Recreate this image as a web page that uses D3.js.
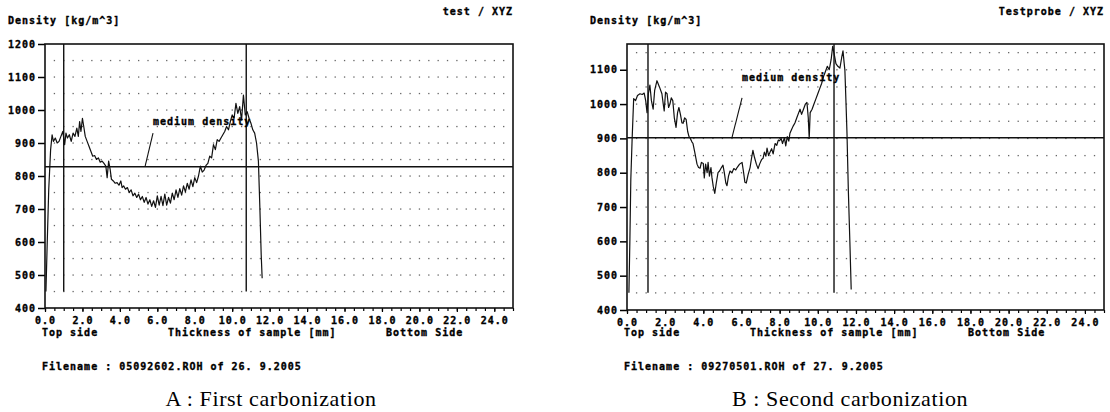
<!DOCTYPE html>
<html>
<head>
<meta charset="utf-8">
<script src="https://cdn.jsdelivr.net/npm/d3@7"></script>
<style>
  body { margin: 0; background: #fff; }
  svg { display: block; }
  .mono { font-family: "DejaVu Sans Mono", monospace; font-weight: bold; font-size: 10px; letter-spacing: 1px; stroke: #000; stroke-width: 0.35px; }
  .cap { font-family: "Liberation Serif", "DejaVu Serif", serif; font-size: 22px; letter-spacing: 0.6px; }
</style>
</head>
<body>
<svg id="chart" width="1110" height="412"></svg>
<script>
var posA = [0.05, 0.12, 0.2, 0.3, 0.38, 0.45, 0.55, 0.65, 0.75, 0.85, 0.95, 1.05, 1.12, 1.2, 1.3, 1.4, 1.5, 1.6, 1.7, 1.78,
  1.85, 1.92, 2.0, 2.07, 2.15, 2.25, 2.35, 2.45, 2.55, 2.65, 2.75, 2.85, 2.95, 3.05, 3.15, 3.25, 3.32, 3.4, 3.48, 3.55,
  3.65, 3.75, 3.85, 3.95, 4.05, 4.12, 4.2, 4.3, 4.4, 4.5, 4.6, 4.7, 4.8, 4.9, 5.0, 5.1, 5.2, 5.3, 5.4, 5.5,
  5.6, 5.7, 5.8, 5.9, 6.0, 6.1, 6.2, 6.3, 6.4, 6.5, 6.6, 6.7, 6.8, 6.9, 7.0, 7.1, 7.2, 7.3, 7.4, 7.5,
  7.6, 7.7, 7.8, 7.9, 8.0, 8.1, 8.2, 8.3, 8.4, 8.5, 8.6, 8.7, 8.8, 8.9, 9.0, 9.1, 9.2, 9.3, 9.4, 9.5,
  9.6, 9.7, 9.8, 9.9, 10.0, 10.1, 10.2, 10.3, 10.4, 10.5, 10.6, 10.7, 10.8, 10.9, 11.0, 11.1, 11.2, 11.3, 11.4, 11.48,
  11.55, 11.6];
var densA = [450, 600, 760, 880, 925, 905, 915, 900, 905, 920, 935, 895, 930, 915, 925, 905, 930, 920, 945, 920,
  965, 935, 975, 950, 920, 905, 890, 875, 860, 862, 850, 855, 842, 845, 838, 830, 795, 845, 820, 790,
  785, 778, 780, 772, 785, 765, 770, 760, 765, 750, 758, 740, 748, 735, 745, 728, 738, 720, 735, 715,
  728, 708, 725, 705, 740, 712, 738, 710, 745, 712, 735, 718, 748, 728, 758, 735, 762, 742, 770, 752,
  778, 760, 788, 768, 795, 780, 800, 830, 812, 818, 832, 838, 860, 855, 895, 880, 910, 905, 915, 925,
  935, 950, 940, 965, 985, 975, 1020, 990, 1010, 970, 1045, 985, 995, 975, 960, 940, 930, 900, 845, 700,
  560, 490];

var posB = [0.1, 0.15, 0.2, 0.27, 0.35, 0.45, 0.55, 0.68, 0.8, 0.9, 0.98, 1.05, 1.12, 1.2, 1.28, 1.37, 1.45, 1.57, 1.7, 1.83,
  1.9, 1.95, 2.02, 2.1, 2.18, 2.25, 2.32, 2.4, 2.48, 2.57, 2.65, 2.72, 2.8, 2.88, 2.94, 3.02, 3.1, 3.18, 3.25, 3.32,
  3.4, 3.46, 3.55, 3.67, 3.75, 3.83, 3.9, 4.0, 4.05, 4.12, 4.2, 4.25, 4.32, 4.4, 4.45, 4.52, 4.6, 4.68, 4.77, 4.85,
  4.95, 5.03, 5.1, 5.18, 5.24, 5.32, 5.4, 5.5, 5.6, 5.7, 5.77, 5.9, 6.03, 6.1, 6.18, 6.25, 6.35, 6.45, 6.52, 6.6,
  6.68, 6.78, 6.87, 6.95, 7.05, 7.13, 7.2, 7.28, 7.34, 7.42, 7.5, 7.58, 7.66, 7.76, 7.85, 7.93, 8.0, 8.08, 8.15, 8.25,
  8.32, 8.4, 8.48, 8.54, 8.62, 8.7, 8.8, 8.9, 9.0, 9.07, 9.15, 9.25, 9.35, 9.43, 9.5, 9.55, 9.6, 9.7, 9.8, 9.9,
  10.0, 10.1, 10.2, 10.3, 10.4, 10.5, 10.6, 10.7, 10.78, 10.88, 10.95, 11.05, 11.16, 11.25, 11.32, 11.38, 11.42, 11.48, 11.53, 11.6,
  11.68, 11.75];
var densB = [450, 600, 780, 900, 1016, 1010, 1025, 1030, 1028, 1032, 1010, 975, 1030, 1055, 1010, 985, 1040, 1068, 1050, 1030,
  1000, 980, 1035, 1030, 990, 1000, 1018, 1010, 960, 932, 975, 990, 970, 945, 944, 960, 955, 920, 905, 900,
  890, 885, 860, 825, 815, 813, 830, 827, 785, 825, 800, 830, 790, 815, 787, 760, 740, 770, 800, 805,
  815, 822, 800, 770, 762, 790, 805, 800, 812, 808, 815, 825, 830, 805, 772, 770, 795, 815, 840, 865,
  845, 825, 812, 825, 838, 842, 860, 848, 872, 850, 860, 870, 855, 885, 880, 895, 893, 900, 885, 902,
  878, 905, 892, 915, 925, 935, 945, 960, 975, 985, 970, 985, 1000, 1005, 960, 900, 975, 985, 1000, 1015,
  1030, 1045, 1060, 1080, 1095, 1110, 1100, 1130, 1168, 1140, 1118, 1110, 1105, 1135, 1155, 1120, 1098, 1000, 914, 750,
  600, 460];

var xTicks = [0, 2, 4, 6, 8, 10, 12, 14, 16, 18, 20, 22, 24];
var yTicksA = [400, 500, 600, 700, 800, 900, 1000, 1100, 1200];
var yTicksB = [400, 500, 600, 700, 800, 900, 1000, 1100];
var yMax = [1200, 1175];
var mediumDensity = [828, 902];
var boundsA = [1.0, 10.75];
var boundsB = [1.1, 10.85];
var titles = ["test / XYZ", "Testprobe / XYZ"];
var fileNames = ["Filename : 05092602.ROH of 26. 9.2005", "Filename : 09270501.ROH of 27. 9.2005"];
var captions = ["A : First carbonization", "B : Second carbonization"];

var svg = d3.select("#chart");
svg.append("rect").attr("width", 1110).attr("height", 412).attr("fill", "#fff");

// plot boxes in pixels, plus where the "medium density" note sits (data units)
var layout = [
  {left: 45, top: 44, right: 513, bottom: 308, note: [5.77, 955], ptr: [[5.77, 930], [5.34, 828]], capX: 271},
  {left: 627, top: 44, right: 1104, bottom: 310, note: [6.03, 1068], ptr: [[6.03, 1018], [5.5, 902]], capX: 850}
];

function drawPanel(i, pos, dens, yTicks, bounds) {
  var L = layout[i];
  var x = d3.scaleLinear().domain([0, 25]).range([L.left, L.right]);
  var y = d3.scaleLinear().domain([400, yMax[i]]).range([L.bottom, L.top]);
  var g = svg.append("g");

  // dotted grid: every 0.5 mm and every 50 kg/m^3
  var grid = d3.cross(d3.range(0.5, 25, 0.5), d3.range(450, yMax[i], 50));
  g.append("g").attr("fill", "#666")
    .selectAll("rect")
    .data(grid)
    .join("rect")
      .attr("x", d => x(d[0]) - 0.6)
      .attr("y", d => y(d[1]) - 0.6)
      .attr("width", 1.3)
      .attr("height", 1.3);

  // minor ticks along the bottom
  g.append("g")
    .attr("transform", "translate(0," + L.bottom + ")")
    .call(d3.axisBottom(x).tickValues(d3.range(0, 25.01, 0.5)).tickSize(3).tickFormat(""))
    .call(s => s.select(".domain").remove())
    .selectAll("line").attr("stroke-width", 1.2);

  var xa = g.append("g")
    .attr("transform", "translate(0," + L.bottom + ")")
    .call(d3.axisBottom(x).tickValues(xTicks).tickSizeInner(4).tickSizeOuter(0).tickPadding(5).tickFormat(d3.format(".1f")));
  xa.select(".domain").remove();
  xa.attr("font-family", null).attr("font-size", null).attr("class", "mono");
  xa.selectAll("line").attr("stroke-width", 1.2);

  var ya = g.append("g")
    .attr("transform", "translate(" + L.left + ",0)")
    .call(d3.axisLeft(y).tickValues(yTicks).tickSizeInner(7).tickSizeOuter(0).tickPadding(2).tickFormat(d3.format("d")));
  ya.select(".domain").remove();
  ya.attr("font-family", null).attr("font-size", null).attr("class", "mono");
  ya.selectAll("line").attr("stroke-width", 1.5);

  // frame
  g.append("rect")
    .attr("x", L.left).attr("y", L.top)
    .attr("width", L.right - L.left).attr("height", L.bottom - L.top)
    .attr("fill", "none").attr("stroke", "#111").attr("stroke-width", 1.6);

  // medium density line
  g.append("line")
    .attr("x1", L.left).attr("x2", L.right)
    .attr("y1", y(mediumDensity[i])).attr("y2", y(mediumDensity[i]))
    .attr("stroke", "#111").attr("stroke-width", 1.4);

  // top / bottom side boundaries
  g.selectAll("line.bound")
    .data(bounds)
    .join("line")
      .attr("class", "bound")
      .attr("x1", d => x(d)).attr("x2", d => x(d))
      .attr("y1", L.top).attr("y2", y(450))
      .attr("stroke", "#111").attr("stroke-width", 1.4);

  // density profile
  var line = d3.line().x(d => x(d)).y((d, j) => y(dens[j]));
  g.append("path")
    .attr("d", line(pos))
    .attr("fill", "none")
    .attr("stroke", "#111")
    .attr("stroke-width", 1.2)
    .attr("stroke-linejoin", "round");

  // note + pointer
  g.append("line")
    .attr("x1", x(L.ptr[0][0])).attr("y1", y(L.ptr[0][1]))
    .attr("x2", x(L.ptr[1][0])).attr("y2", y(L.ptr[1][1]))
    .attr("stroke", "#111").attr("stroke-width", 1.1);
  g.append("text").attr("class", "mono")
    .attr("x", x(L.note[0])).attr("y", y(L.note[1]))
    .text("medium density");

  // texts around the plot
  g.append("text").attr("class", "mono").attr("x", L.left - 37).attr("y", 24).text("Density [kg/m^3]");
  g.append("text").attr("class", "mono").attr("x", L.right).attr("y", 15)
    .attr("text-anchor", "end").text(titles[i]);
  g.append("text").attr("class", "mono").attr("x", L.left - 3).attr("y", 336).text("Top side");
  g.append("text").attr("class", "mono").attr("x", L.left + 123).attr("y", 336).text("Thickness of sample [mm]");
  g.append("text").attr("class", "mono").attr("x", L.left + 341).attr("y", 336).text("Bottom Side");
  g.append("text").attr("class", "mono").attr("x", L.left - 3).attr("y", 370).text(fileNames[i]);
  g.append("text").attr("class", "cap").attr("x", L.capX).attr("y", 406)
    .attr("text-anchor", "middle").text(captions[i]);
}

drawPanel(0, posA, densA, yTicksA, boundsA);
drawPanel(1, posB, densB, yTicksB, boundsB);
</script>
</body>
</html>
